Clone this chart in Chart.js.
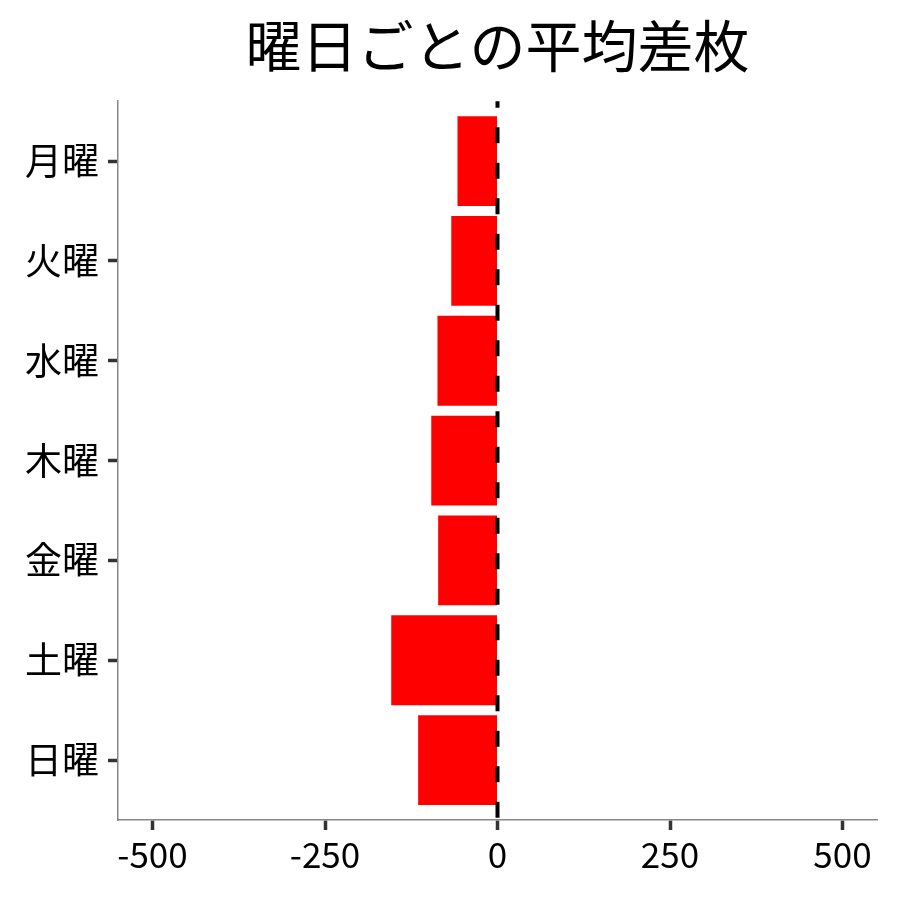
<!DOCTYPE html>
<html>
<head>
<meta charset="utf-8">
<script src="https://cdn.jsdelivr.net/npm/chart.js@4"></script>
<style>
  html, body { margin: 0; padding: 0; background: #fff; }
  #wrap { width: 900px; height: 900px; }
</style>
</head>
<body>
<div id="wrap"><canvas id="c"></canvas></div>
<script>
const titleText = '曜日ごとの平均差枚';
const days = ['月曜', '火曜', '水曜', '木曜', '金曜', '土曜', '日曜'];
const meanDiff = [-58, -67, -87, -96, -86, -154, -115];
const xTickValues = [-500, -250, 0, 250, 500];
const refValue = 0;

const FONT = "'Noto Sans CJK JP', 'Noto Sans', sans-serif";

const refLinePlugin = {
  id: 'refLine',
  afterDatasetsDraw(chart) {
    const { ctx, chartArea, scales } = chart;
    const x = scales.x.getPixelForValue(refValue);
    ctx.save();
    ctx.beginPath();
    ctx.setLineDash([16, 19.5]);
    ctx.lineDashOffset = 9.5;
    ctx.lineWidth = 4;
    ctx.strokeStyle = '#000';
    ctx.moveTo(x, chartArea.top);
    ctx.lineTo(x, chartArea.bottom + 10);
    ctx.stroke();
    ctx.restore();
  }
};

new Chart(document.getElementById('c'), {
  type: 'bar',
  data: {
    datasets: [{
      data: days.map((d, i) => ({ x: meanDiff[i], y: i })),
      backgroundColor: '#ff0000',
      borderWidth: 0,
      categoryPercentage: 0.9,
      barPercentage: 1.0
    }]
  },
  options: {
    indexAxis: 'y',
    responsive: true,
    maintainAspectRatio: false,
    animation: false,
    layout: { padding: { left: 0, right: 23, top: 0, bottom: 0 } },
    plugins: {
      legend: { display: false },
      tooltip: { enabled: false },
      title: {
        display: true,
        text: titleText,
        fullSize: false,
        align: 'center',
        color: '#000',
        font: { family: FONT, size: 56, weight: 'normal', lineHeight: 1.2 },
        padding: { top: 12, bottom: 22 }
      }
    },
    scales: {
      x: {
        type: 'linear',
        offset: false,
        min: -550,
        max: 550,
        afterBuildTicks: s => { s.ticks = xTickValues.map(v => ({ value: v })); },
        ticks: {
          color: '#000',
          font: { family: FONT, size: 35 },
          padding: 4,
          maxRotation: 0
        },
        grid: { offset: false, drawOnChartArea: false, tickLength: 10, tickWidth: 3.5, tickColor: '#333' },
        border: { color: '#888', width: 1.5 },
        afterFit: s => { s.height = 80; s.paddingLeft = 0; s.paddingRight = 0; }
      },
      y: {
        type: 'linear',
        offset: false,
        reverse: true,
        min: -0.6,
        max: 6.6,
        afterBuildTicks: s => { s.ticks = days.map((d, i) => ({ value: i })); },
        ticks: {
          color: '#000',
          font: { family: FONT, size: 37 },
          padding: 9,
          callback: v => days[v]
        },
        grid: { offset: false, drawOnChartArea: false, tickLength: 10, tickWidth: 3.5, tickColor: '#333' },
        border: { color: '#888', width: 1.5 },
        afterFit: s => { s.width = 118; s.paddingTop = 0; s.paddingBottom = 0; }
      }
    }
  },
  plugins: [refLinePlugin]
});
</script>
</body>
</html>
